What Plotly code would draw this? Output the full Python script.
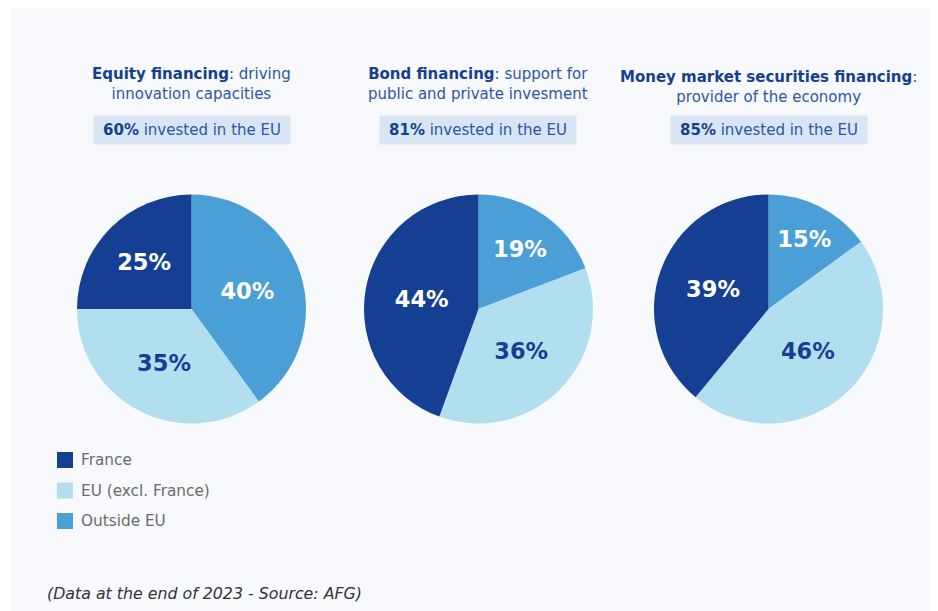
import plotly.graph_objects as go

# ---- data ----
categories = ["Outside EU", "EU (excl. France)", "France"]
equity = [40, 35, 25]
bond = [19, 36, 44]
money = [15, 46, 39]
eu_share = [60, 81, 85]
title_bold = ["Equity financing", "Bond financing", "Money market securities financing"]
title_rest = [": driving<br>innovation capacities", ": support for<br>public and private invesment",
              ":<br>provider of the economy"]
legend_order = ["France", "EU (excl. France)", "Outside EU"]
footnote = "(Data at the end of 2023 - Source: AFG)"

# ---- style ----
OFF = 8  # page body margin offset
W, H = 938 - OFF, 611 - OFF
FONT = "DejaVu Sans"
DARK = "#143f92"
LIGHT = "#b2dff0"
MID = "#4a9fd6"
COLORS = {"France": DARK, "EU (excl. France)": LIGHT, "Outside EU": MID}
TXT_BOLD = "#163f8e"
TXT_REG = "#2d56a3"


def px(x):
    return (x - OFF) / W


def py(y):
    return 1 - (y - OFF) / H


centers_x = [191.5, 478.5, 768.5]
center_y = 309
radius = 114.5
title_y = [84, 84, 86.5]

fig = go.Figure()

for i, vals in enumerate([equity, bond, money]):
    cx = centers_x[i]
    fig.add_trace(go.Pie(
        labels=categories,
        values=vals,
        sort=False,
        direction="clockwise",
        rotation=0,
        marker=dict(colors=[COLORS[c] for c in categories], line=dict(width=0)),
        texttemplate="%{value}%",
        textposition="inside",
        insidetextorientation="horizontal",
        textfont=dict(family=FONT, size=22.5, weight="bold",
                      color=["white" if c != "EU (excl. France)" else DARK for c in categories]),
        domain=dict(x=[px(cx - radius), px(cx + radius)],
                    y=[py(center_y + radius), py(center_y - radius)]),
        showlegend=False,
        hoverinfo="label+percent",
    ))
    fig.add_annotation(
        x=px(cx), y=py(title_y[i]), xref="paper", yref="paper",
        xanchor="center", yanchor="middle",
        text=f"<b style='color:{TXT_BOLD}'>{title_bold[i]}</b>{title_rest[i]}",
        showarrow=False, align="center",
        font=dict(family=FONT, size=15, color=TXT_REG),
    )
    fig.add_annotation(
        x=px(cx), y=py(129.5), xref="paper", yref="paper",
        xanchor="center", yanchor="middle",
        text=f"<b style='color:{TXT_BOLD}'>{eu_share[i]}%</b> invested in the EU",
        showarrow=False, align="center", width=186,
        bgcolor="#d7e5f5", borderpad=5,
        font=dict(family=FONT, size=15, color=TXT_REG),
    )

# background panel + manual legend
shapes = [dict(type="rect", xref="paper", yref="paper", x0=px(11), x1=1, y0=0, y1=1,
               fillcolor="#f7f9fd", line=dict(width=0), layer="below")]
for k, name in enumerate(legend_order):
    yc = 460 + k * 30.5
    shapes.append(dict(type="rect", xref="paper", yref="paper",
                       x0=px(57), x1=px(73), y0=py(yc + 8), y1=py(yc - 8),
                       fillcolor=COLORS[name], line=dict(width=0)))
    fig.add_annotation(
        x=px(79), y=py(yc), xref="paper", yref="paper", xanchor="left", yanchor="middle",
        text=name, showarrow=False,
        font=dict(family=FONT, size=15.3, color="#6b6b6b"),
    )

fig.add_annotation(
    x=px(45), y=py(593), xref="paper", yref="paper", xanchor="left", yanchor="middle",
    text=f"<i>{footnote}</i>", showarrow=False,
    font=dict(family=FONT, size=15.8, color="#333333"),
)

fig.update_layout(
    width=W, height=H,
    margin=dict(l=0, r=0, t=0, b=0),
    paper_bgcolor="white",
    plot_bgcolor="white",
    shapes=shapes,
    showlegend=False,
)

fig.write_html("out.html")
